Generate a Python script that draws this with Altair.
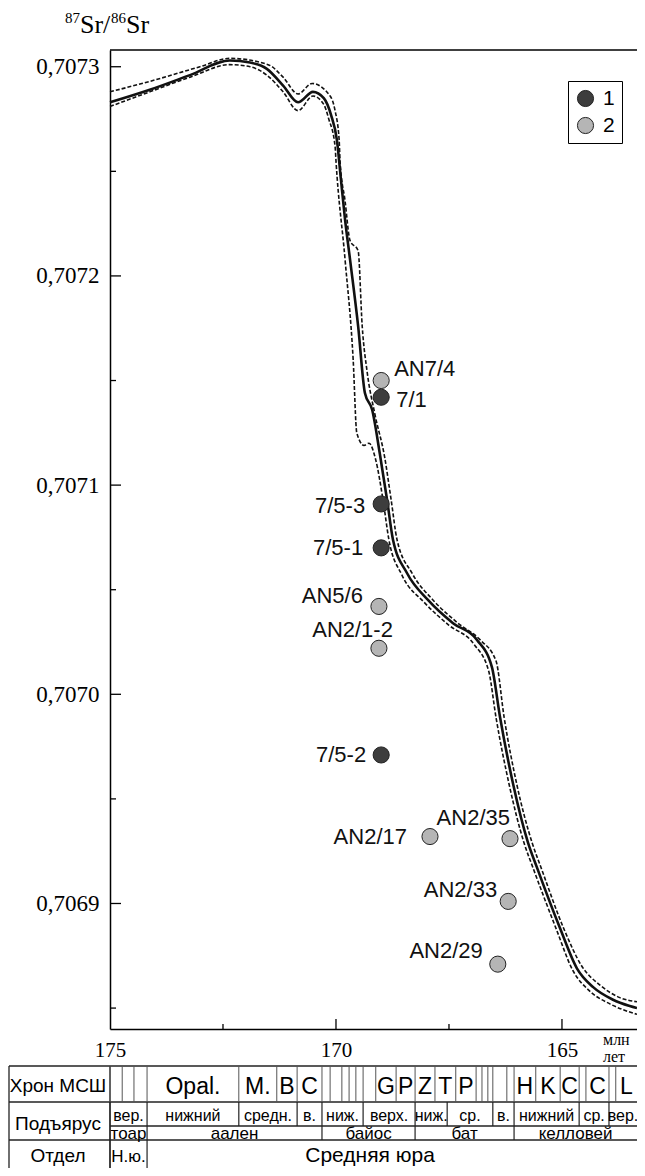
import altair as alt
import pandas as pd

# ---------------- data ----------------
curve_age = [175.00, 174.12, 173.23, 172.35, 171.90, 171.53, 171.17, 170.84, 170.51, 170.27,
             170.11, 169.98, 169.89, 169.80, 169.69, 169.51, 169.36, 169.20, 169.03, 168.87,
             168.74, 168.43, 167.96, 167.41, 166.88, 166.55, 166.37, 166.08, 165.75, 165.55,
             165.04, 164.67, 164.31, 163.87, 163.50, 163.34]
curve_sr = [0.707283, 0.707289, 0.707296, 0.707303, 0.707302, 0.707299, 0.707291, 0.707283, 0.707288, 0.707285,
            0.707277, 0.707265, 0.707246, 0.707227, 0.707208, 0.707176, 0.707144, 0.707136, 0.707115, 0.707093,
            0.707074, 0.707058, 0.707045, 0.707034, 0.707026, 0.707013, 0.706989, 0.706957, 0.706929, 0.706917,
            0.706888, 0.706869, 0.706860, 0.706854, 0.706851, 0.706850]

upper_age = [175.00, 174.12, 173.01, 172.35, 171.50, 171.17, 170.84, 170.53, 170.13, 170.02,
             169.93, 169.91, 169.80, 169.69, 169.51, 169.42, 169.31, 169.14, 168.92, 168.78,
             168.65, 168.32, 167.85, 167.30, 166.81, 166.46, 166.28, 166.00, 165.66, 165.46,
             164.96, 164.56, 164.16, 163.72, 163.34]
upper_sr = [0.707288, 0.707293, 0.707300, 0.707304, 0.707301, 0.707295, 0.707287, 0.707292, 0.707286, 0.707279,
            0.707265, 0.707255, 0.707236, 0.707217, 0.707212, 0.707176, 0.707154, 0.707134, 0.707113, 0.707093,
            0.707074, 0.707058, 0.707045, 0.707034, 0.707026, 0.707016, 0.706989, 0.706957, 0.706929, 0.706917,
            0.706888, 0.706870, 0.706861, 0.706855, 0.706853]

lower_age = [175.00, 174.12, 173.23, 172.35, 171.90, 171.53, 171.17, 170.84, 170.51, 170.27,
             170.16, 170.02, 170.00, 169.80, 169.62, 169.54, 169.38, 169.27, 169.12, 168.96,
             168.83, 168.54, 168.05, 167.50, 166.95, 166.62, 166.46, 166.17, 165.84, 165.64,
             165.13, 164.76, 164.38, 163.94, 163.34]
lower_sr = [0.707281, 0.707288, 0.707295, 0.707301, 0.707300, 0.707296, 0.707288, 0.707279, 0.707286, 0.707282,
            0.707275, 0.707262, 0.707255, 0.707208, 0.707160, 0.707125, 0.707119, 0.707120, 0.707112, 0.707093,
            0.707074, 0.707057, 0.707044, 0.707033, 0.707024, 0.707011, 0.706989, 0.706957, 0.706929, 0.706917,
            0.706888, 0.706868, 0.706858, 0.706852, 0.706847]

sample_labels = ["AN7/4", "7/1", "7/5-3", "7/5-1", "AN5/6", "AN2/1-2", "7/5-2",
                 "AN2/17", "AN2/35", "AN2/33", "AN2/29"]
sample_age = [169.00, 169.00, 169.00, 169.00, 169.05, 169.05, 169.00, 167.92, 166.15, 166.19, 166.42]
sample_sr = [0.707150, 0.707142, 0.707091, 0.707070, 0.707042, 0.707022, 0.706971,
             0.706932, 0.706931, 0.706901, 0.706871]
sample_group = ["2", "1", "1", "1", "2", "2", "1", "2", "2", "2", "2"]

y_major = [0.7069, 0.7070, 0.7071, 0.7072, 0.7073]
y_minor = [0.70685, 0.70695, 0.70705, 0.70715, 0.70725]
x_labels = [175, 170, 165]
x_major = [170, 165]
x_minor = [172.5, 167.5]

chron_bounds = [175.0, 174.73, 174.47, 174.18, 172.15, 171.31, 170.86, 170.31, 170.13, 169.87,
                169.71, 169.56, 169.40, 169.12, 168.67, 168.25, 167.81, 167.35, 166.90, 166.77,
                166.64, 166.53, 166.22, 166.06, 165.58, 165.04, 164.62, 164.47, 163.96, 163.81]
chron_names = ["", "", "", "Opal.", "M.", "B", "C", "", "", "",
               "", "", "", "G", "P", "Z", "T", "P", "", "",
               "", "", "", "H", "K", "C", "", "C", "", "L"]
substage_bounds = [175.0, 174.18, 172.15, 170.86, 170.31, 169.40, 168.25, 167.54, 166.53, 166.06, 164.62, 163.96]
substage_names = ["вер.", "нижний", "средн.", "в.", "ниж.", "верх.", "ниж.", "ср.", "в.", "нижний", "ср.", "вер."]
stage_bounds = [175.0, 174.18, 170.31, 168.25, 166.06]
stage_names = ["тоар", "аален", "байос", "бат", "келловей"]
series_bounds = [175.0, 174.18]
series_names = ["Н.ю.", "Средняя юра"]
row_names = ["Хрон МСШ", "Подъярус", "Отдел"]

# ---------------- layout ----------------
X_END = 163.34
W, H = 527, 979
SERIF = "Liberation Serif"
SANS = "Liberation Sans"

xscale = alt.Scale(domain=[X_END, 175.0], reverse=True, nice=False, zero=False)
yscale = alt.Scale(domain=[0.70684, 0.707308], nice=False, zero=False)

xaxis = alt.Axis(values=x_labels, format="d", labelFont=SERIF, labelFontSize=21, labelColor="black",
                 labelPadding=10, ticks=False, tickSize=0, grid=False, domainColor="black",
                 domainWidth=1.5, labelFlush=False, title=None)
yaxis = alt.Axis(values=y_major, labelExpr="replace(format(datum.value, '.4f'), '.', ',')",
                 labelFont=SERIF, labelFontSize=23, labelColor="black", labelPadding=11,
                 ticks=False, tickSize=0, grid=False, domainColor="black", domainWidth=1.5, title=None)


def X(f):
    return alt.X(f, type="quantitative", scale=xscale, axis=xaxis, title=None)


def Y(f):
    return alt.Y(f, type="quantitative", scale=yscale, axis=yaxis, title=None)


def line_df(a, s):
    return pd.DataFrame({"age": a, "sr": s, "i": list(range(len(a)))})


one = pd.DataFrame({"k": [0]})
layers = []

# frame top line
layers.append(alt.Chart(one).mark_rule(color="black", strokeWidth=1.5).encode(
    x=alt.value(0), x2=alt.value(W), y=alt.value(0)))

# inward ticks
layers.append(alt.Chart(pd.DataFrame({"sr": y_major})).mark_rule(color="black", strokeWidth=1.3).encode(
    y=Y("sr"), x=alt.value(0), x2=alt.value(11)))
layers.append(alt.Chart(pd.DataFrame({"sr": y_minor})).mark_rule(color="black", strokeWidth=1.3).encode(
    y=Y("sr"), x=alt.value(0), x2=alt.value(6)))
layers.append(alt.Chart(pd.DataFrame({"age": x_major})).mark_rule(color="black", strokeWidth=1.3).encode(
    x=X("age"), y=alt.value(H), y2=alt.value(H - 10)))
layers.append(alt.Chart(pd.DataFrame({"age": x_minor})).mark_rule(color="black", strokeWidth=1.3).encode(
    x=X("age"), y=alt.value(H), y2=alt.value(H - 5)))

# curves
for a, s in [(lower_age, lower_sr), (upper_age, upper_sr)]:
    layers.append(alt.Chart(line_df(a, s)).mark_line(color="#111", strokeWidth=1.6, strokeDash=[4, 2],
                                                    interpolate="monotone").encode(
        x=X("age"), y=Y("sr"), order="i:Q"))
layers.append(alt.Chart(line_df(curve_age, curve_sr)).mark_line(color="#111", strokeWidth=2.6,
                                                                interpolate="monotone").encode(
    x=X("age"), y=Y("sr"), order="i:Q"))

# samples
pts = pd.DataFrame({"label": sample_labels, "age": sample_age, "sr": sample_sr, "grp": sample_group})
legend = alt.Legend(title=None, orient="none", legendX=458, legendY=31, strokeColor="black",
                    fillColor="white", padding=7, symbolType="circle", symbolSize=260,
                    symbolStrokeColor="#222", symbolStrokeWidth=1, symbolOpacity=1,
                    labelFont=SANS, labelFontSize=21, labelColor="black", labelOffset=7, rowPadding=5)
layers.append(alt.Chart(pts).mark_circle(size=260, stroke="#222", strokeWidth=1, opacity=1).encode(
    x=X("age"), y=Y("sr"),
    fill=alt.Fill("grp:N", scale=alt.Scale(domain=["1", "2"], range=["#3d3d3d", "#b5b5b5"]), legend=legend)))

place = {
    "AN7/4": (13, -12, "left"),
    "7/1": (15, 3, "left"),
    "7/5-3": (-16, 2, "right"),
    "7/5-1": (-18, 0, "right"),
    "AN5/6": (-16, -10, "right"),
    "AN2/1-2": (14, -18, "right"),
    "7/5-2": (-15, 0, "right"),
    "AN2/17": (-23, 0, "right"),
    "AN2/35": (0, -21, "right"),
    "AN2/33": (-11, -11, "right"),
    "AN2/29": (-15, -13, "right"),
}
for lab in sample_labels:
    dx, dy, al = place[lab]
    layers.append(alt.Chart(pts).transform_filter(alt.datum.label == lab).mark_text(
        font=SANS, fontSize=22, color="#111", align=al, baseline="middle", dx=dx, dy=dy).encode(
        x=X("age"), y=Y("sr"), text="label:N"))

# axis title  87Sr/86Sr and unit
for txt, xx, yy, fs in [("87", -45, -27, 15), ("Sr/", -30, -17, 26), ("86", 1, -27, 15), ("Sr", 16, -17, 26)]:
    layers.append(alt.Chart(one).mark_text(font=SERIF, fontSize=fs, color="black", align="left",
                                           baseline="alphabetic").encode(
        x=alt.value(xx), y=alt.value(yy), text=alt.value(txt)))
for txt, yy in [("млн", 995), ("лет", 1012)]:
    layers.append(alt.Chart(one).mark_text(font=SERIF, fontSize=16, color="black", align="left",
                                           baseline="alphabetic").encode(
        x=alt.value(493), y=alt.value(yy), text=alt.value(txt)))

# ---------------- stratigraphic table ----------------
T0, T1, T2, T3, TB = 1016, 1052, 1076, 1090, 1118
LEFT = -101
LINE = "#222"

for yy, x0 in [(T0, LEFT), (T1, LEFT), (T2, 0), (T3, LEFT)]:
    layers.append(alt.Chart(one).mark_rule(color=LINE, strokeWidth=1.3).encode(
        x=alt.value(x0), x2=alt.value(W), y=alt.value(yy)))
for xx in [LEFT, 0]:
    layers.append(alt.Chart(one).mark_rule(color=LINE, strokeWidth=1.3).encode(
        x=alt.value(xx), y=alt.value(T0), y2=alt.value(TB)))


def cells(bounds, names):
    ends = bounds[1:] + [X_END]
    return pd.DataFrame({"age": bounds, "end": ends, "name": names,
                         "mid": [(a + b) / 2 for a, b in zip(bounds, ends)]})


rows = [
    (chron_bounds, chron_names, T0, T1, T1 - 8, 23, "#555", 1.0),
    (substage_bounds, substage_names, T1, T2, T2 - 5, 16, LINE, 1.2),
    (stage_bounds, stage_names, T2, T3, T3 - 1, 17, LINE, 1.2),
]
for b, n, ya, yb, ybase, fs, col, sw in rows:
    df = cells(b, n)
    layers.append(alt.Chart(df).mark_rule(color=col, strokeWidth=sw).encode(
        x=X("age"), y=alt.value(ya), y2=alt.value(yb)))
    layers.append(alt.Chart(df).transform_filter(alt.datum.name != "").mark_text(
        font=SANS, fontSize=fs, color="black", align="center", baseline="alphabetic").encode(
        x=X("mid"), y=alt.value(ybase), text="name:N"))

ser = cells(series_bounds, series_names)
layers.append(alt.Chart(ser).mark_rule(color=LINE, strokeWidth=1.2).encode(
    x=X("age"), y=alt.value(T3), y2=alt.value(TB)))
layers.append(alt.Chart(ser).transform_filter(alt.datum.name == series_names[0]).mark_text(
    font=SANS, fontSize=17, color="black", align="center", baseline="alphabetic").encode(
    x=X("mid"), y=alt.value(TB - 6), text="name:N"))
layers.append(alt.Chart(ser).transform_filter(alt.datum.name == series_names[1]).mark_text(
    font=SANS, fontSize=21, color="black", align="center", baseline="alphabetic", dx=-22).encode(
    x=X("mid"), y=alt.value(TB - 6), text="name:N"))

for nm, yb in zip(row_names, [T1 - 10, T3 - 10, TB - 6]):
    layers.append(alt.Chart(one).mark_text(font=SANS, fontSize=19, color="black", align="center",
                                           baseline="alphabetic").encode(
        x=alt.value(-52), y=alt.value(yb), text=alt.value(nm)))

chart = alt.layer(*layers).properties(
    width=W, height=H,
    autosize=alt.AutoSizeParams(type="none"),
    padding={"left": 102, "top": 42, "right": 0, "bottom": 139},
).configure_view(stroke=None)

chart.save("out.html", embed_options={"renderer": "svg", "actions": False})
